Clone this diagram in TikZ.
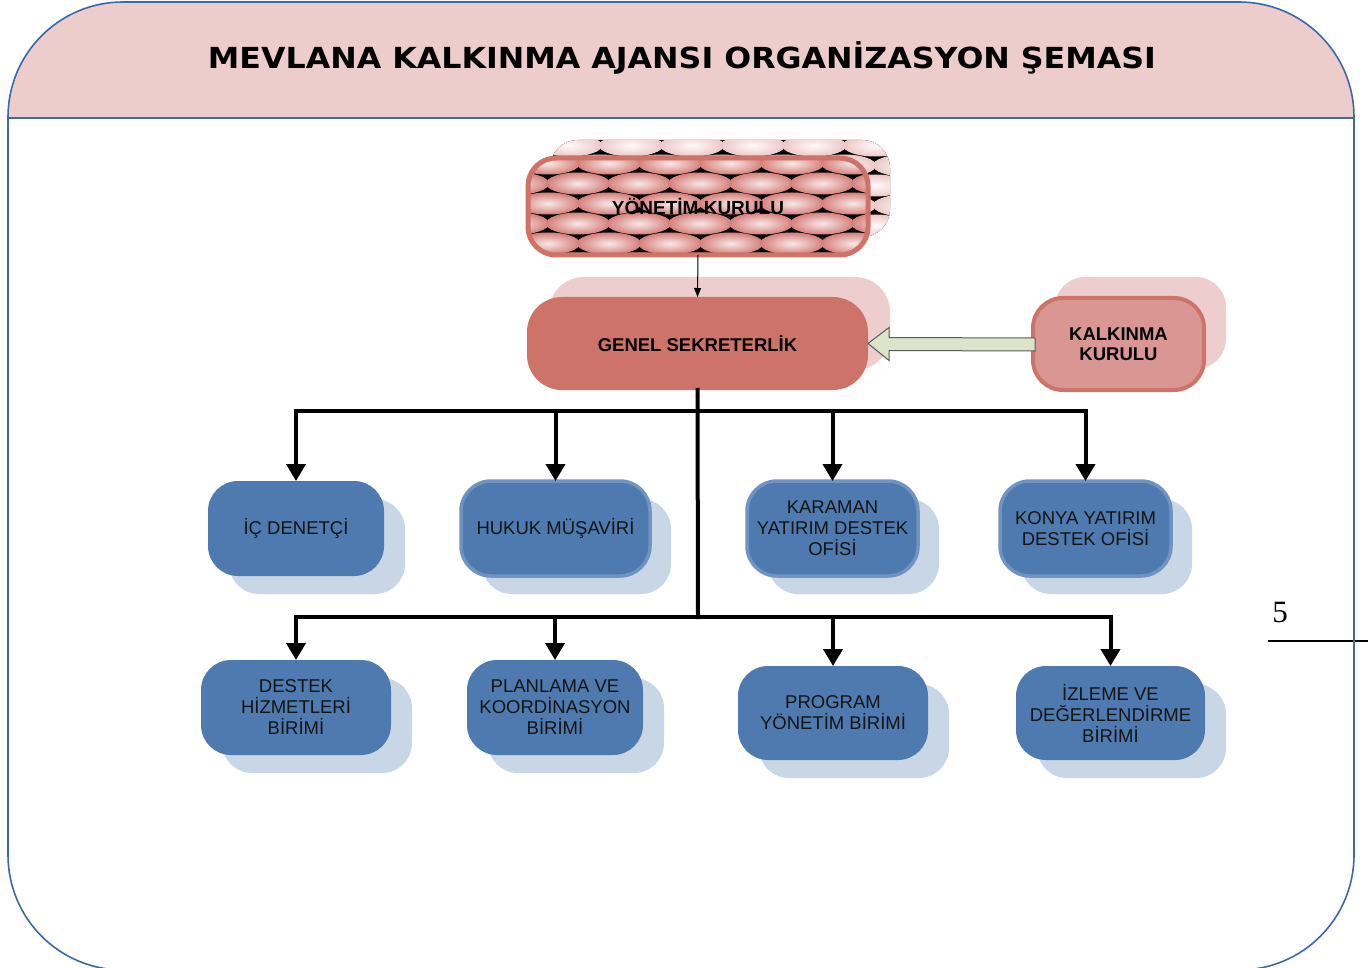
\documentclass[tikz,border=0pt]{standalone}
\usepackage{fontspec}
\usepackage{graphicx}
\setmainfont{Liberation Sans}
\newfontfamily\titlefont{DejaVu Sans}
\newfontfamily\numfont{Liberation Serif}
\usetikzlibrary{shadows,arrows.meta,calc}
\definecolor{headpink}{RGB}{237,205,204}
\definecolor{frameblue}{RGB}{58,103,174}
\definecolor{genred}{RGB}{205,115,106}
\definecolor{kkfill}{RGB}{217,150,147}
\definecolor{shadowpink}{RGB}{237,205,205}
\definecolor{boxblue}{RGB}{79,122,175}
\definecolor{boxborder}{RGB}{112,147,194}
\definecolor{shadowblue}{RGB}{201,214,230}
\definecolor{arrowgreen}{RGB}{221,228,204}
\definecolor{arrowgray}{RGB}{90,90,90}
\definecolor{ykin}{RGB}{248,232,232}
\definecolor{ykout}{RGB}{214,128,122}
\definecolor{ykshin}{RGB}{255,250,250}
\definecolor{ykshout}{RGB}{236,200,198}
% pattern of shaded ellipses on black, centred on (#1,#2)
\newcommand\ykpattern[4]{%
  \fill[black] ({#1-200},{#2-70}) rectangle ({#1+200},{#2+70});
  \foreach \r in {-3,...,3}{\foreach \c in {-4,...,4}{%
    \pgfmathsetmacro\xx{#1+61*\c-28+30*mod(abs(\r),2)}%
    \pgfmathsetmacro\yy{#2+20*\r-3}%
    \shade[inner color=#3,outer color=#4] (\xx,\yy) ellipse (32 and 11);}}}
\begin{document}
\begin{tikzpicture}[x=1pt,y=-1pt,
  boxtext/.style={font=\fontsize{18.5}{21}\selectfont, text=black!92, align=center, inner sep=0pt, outer sep=0pt},
  bluebox/.style={boxtext, rectangle, rounded corners=30pt, fill=boxblue,
     general shadow={fill=shadowblue, shadow xshift=21pt, shadow yshift=-18pt}},
  bluebord/.style={draw=boxborder, line width=3.5pt},
  ykbox/.style={rectangle, rounded corners=28pt, minimum width=340pt, minimum height=97pt,
     draw=genred, line width=5pt,
     font=\bfseries\fontsize{19}{22}\selectfont, inner sep=0pt, outer sep=0pt},
  gsbox/.style={rectangle, rounded corners=35pt, fill=genred, minimum width=341pt, minimum height=93pt,
     font=\bfseries\fontsize{18.5}{21}\selectfont, inner sep=0pt, outer sep=0pt,
     general shadow={fill=shadowpink, shadow xshift=22pt, shadow yshift=20pt}},
  kkbox/.style={rectangle, rounded corners=30pt, fill=kkfill, draw=genred, line width=4pt,
     minimum width=171pt, minimum height=92pt, align=center,
     font=\bfseries\fontsize{18.5}{20}\selectfont, inner sep=0pt, outer sep=0pt,
     general shadow={fill=shadowpink, shadow xshift=22pt, shadow yshift=21pt}},
  bus/.style={line width=4pt, line cap=rect},
  busarrow/.style={line width=4pt, -{Triangle[width=19pt,length=17pt]}},
  blockarrow/.style={fill=arrowgreen, draw=arrowgray, line width=1pt, line join=miter}
]
\useasboundingbox (0,0) rectangle (1368,968);
\fill[white] (0,0) rectangle (1368,968);
% header band
\begin{scope}
  \clip (0,0) rectangle (1368,118);
  \fill[headpink, rounded corners=115pt] (8,2) rectangle (1354,970);
\end{scope}
% page number
\draw[line width=1.5pt] (1268,641) -- (1368,641);
\node[font=\numfont\fontsize{31}{31}\selectfont, inner sep=0pt] (pnum) at (1280,612) {5};
% frame
\draw[frameblue, line width=1.6pt] (8,118) -- (1354,118);
\draw[frameblue, line width=1.6pt, rounded corners=115pt] (8,2) rectangle (1354,970);
% title
\node[font=\titlefont\bfseries\fontsize{29}{29}\selectfont, anchor=base, inner sep=0pt] (title) at (682,69)
  {\scalebox{1.092}[1]{MEVLANA KALKINMA AJANSI ORGANİZASYON ŞEMASI}};

% YÖNETİM KURULU: patterned shadow and box
\begin{scope}
  \clip[rounded corners=28pt] (550,140) rectangle (890,237);
  \ykpattern{720}{188.5}{ykshin}{ykshout}
\end{scope}
\begin{scope}
  \clip[rounded corners=28pt] (528,158) rectangle (868,255);
  \ykpattern{698}{206.5}{ykin}{ykout}
\end{scope}
\node[ykbox] (yk) at (698,206.5) {YÖNETİM KURULU};
\node[gsbox] (gs) at (697.5,343.5) {GENEL SEKRETERLİK};
\node[kkbox] (kk) at (1118.5,344) {KALKINMA\\KURULU};

% row 1
\node[bluebox, minimum width=176pt, minimum height=95pt] (ic) at (296,528.5) {İÇ DENETÇİ};
\node[bluebox, bluebord, minimum width=189pt, minimum height=95pt] (hk) at (555.5,528.5) {HUKUK MÜŞAVİRİ};
\node[bluebox, bluebord, minimum width=171pt, minimum height=95pt] (kr) at (832.5,528.5) {KARAMAN\\YATIRIM DESTEK\\OFİSİ};
\node[bluebox, bluebord, minimum width=171pt, minimum height=95pt] (ko) at (1085.5,528.5) {KONYA YATIRIM\\DESTEK OFİSİ};
% row 2
\node[bluebox, minimum width=190pt, minimum height=95pt] (dh) at (296,707.5) {DESTEK\\HİZMETLERİ\\BİRİMİ};
\node[bluebox, minimum width=176pt, minimum height=95pt] (pk) at (555,707.5) {PLANLAMA VE\\KOORDİNASYON\\BİRİMİ};
\node[bluebox, minimum width=190pt, minimum height=94pt] (py) at (833,713) {PROGRAM\\YÖNETİM BİRİMİ};
\node[bluebox, minimum width=189pt, minimum height=94pt] (iz) at (1110.5,713) {İZLEME VE\\DEĞERLENDİRME\\BİRİMİ};

% connectors
\draw[line width=1pt, -{Triangle[width=7pt,length=9pt]}] (yk.south) -- (gs.north);
\draw[blockarrow] (gs.east) -- ++(21,-16) -- ++(0,10) -- ($(kk.west)+(2,-6)$)
   -- ($(kk.west)+(2,7)$) -- ($(gs.east)+(21,7)$) -- ++(0,10) -- cycle;

\coordinate (bus1) at (698,411);
\coordinate (bus2) at (698,617);
\draw[bus] (ic.north |- bus1) -- (ko.north |- bus1);
\draw[bus] (gs.south) -- (bus2);
\draw[bus] (dh.north |- bus2) -- (iz.north |- bus2);
\foreach \n in {ic,hk,kr,ko} \draw[busarrow] (\n.north |- bus1) -- (\n.north);
\foreach \n in {dh,pk,py,iz} \draw[busarrow] (\n.north |- bus2) -- (\n.north);
\end{tikzpicture}
\end{document}
